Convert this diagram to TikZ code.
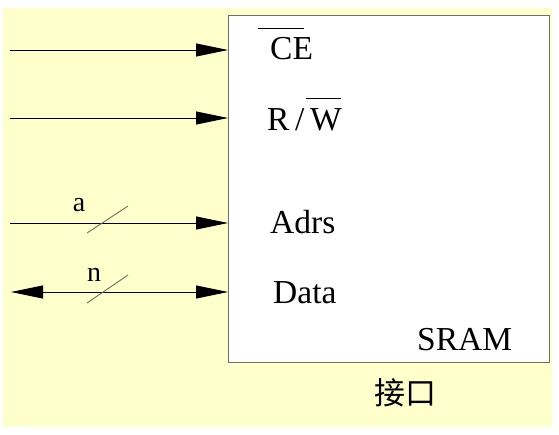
\documentclass[tikz,border=0pt]{standalone}
\usepackage{fontspec}
\setmainfont{Liberation Serif}
\newfontfamily\cjk{Noto Sans CJK SC}
\usetikzlibrary{arrows.meta}
\definecolor{bgyellow}{RGB}{255,255,204}
\definecolor{boxgray}{RGB}{110,110,100}
\tikzset{
  sig/.style={draw=black, line width=0.9pt, -{Triangle[length=32pt,width=13pt]}},
  bisig/.style={draw=black, line width=0.9pt, {Triangle[length=32pt,width=13pt]}-{Triangle[length=32pt,width=13pt]}},
  lbl/.style={anchor=base west, inner sep=0pt, font=\fontsize{33.5}{37}\selectfont},
  buslbl/.style={anchor=base, inner sep=0pt, font=\fontsize{28}{32}\selectfont},
  slash/.style={draw=boxgray, line width=0.9pt},
  ovl/.style={draw=black, line width=1pt}
}
\begin{document}
\begin{tikzpicture}[x=1pt,y=-1pt]
\useasboundingbox (0,0) rectangle (559,434);
\fill[bgyellow] (3,8) rectangle (552,427);
\node[draw=boxgray, fill=white, line width=1.1pt, minimum width=321pt, minimum height=347pt, inner sep=0pt, anchor=north west] (box) at (228,15) {};
% signal sources and targets
\coordinate (s1) at (10,50);  \coordinate (t1) at (box.west |- s1);
\coordinate (s2) at (10,118); \coordinate (t2) at (box.west |- s2);
\coordinate (s3) at (10,223); \coordinate (t3) at (box.west |- s3);
\coordinate (s4) at (11,292); \coordinate (t4) at (box.west |- s4);
\draw[sig] (s1) -- (t1);
\draw[sig] (s2) -- (t2);
\draw[sig] (s3) -- (t3);
\draw[bisig] (s4) -- (t4);
% bus slashes
\coordinate (a1) at (87,233); \coordinate (a2) at (128,206);
\coordinate (n1) at (87,303); \coordinate (n2) at (128,275);
\draw[slash] (a1) -- (a2);
\draw[slash] (n1) -- (n2);
\node[buslbl] (la) at (79,211) {a};
\node[buslbl] (ln) at (94,281) {n};
% labels inside box
\node[lbl] (ce) at (270,59) {CE};
\node[lbl] (rw) at (267,130) {R\,/\,W};
\node[lbl] (adrs) at (270,233) {Adrs};
\node[lbl] (data) at (273,303) {Data};
\node[lbl] (sram) at (417,350) {SRAM};
\draw[ovl] (258,28) -- (304,28);
\draw[ovl] (306,98) -- (341,98);
\node[inner sep=0pt, font=\cjk\fontsize{31}{34}\selectfont] (jk) at (405,393) {接口};
\end{tikzpicture}
\end{document}
